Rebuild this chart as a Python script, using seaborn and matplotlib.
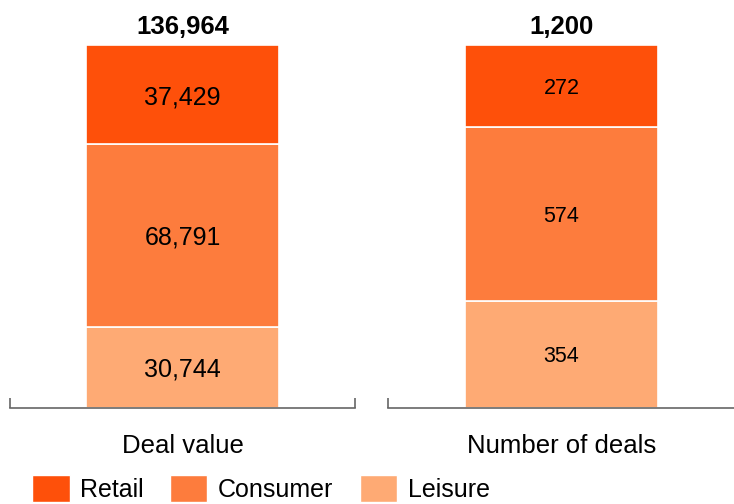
#!/usr/bin/env python3
import matplotlib
matplotlib.use("Agg")
import matplotlib.pyplot as plt
import seaborn as sns
import pandas as pd
from matplotlib.patches import Patch

sns.set_style("white")
plt.rcParams["font.family"] = ["Liberation Sans", "DejaVu Sans"]
plt.rcParams["text.color"] = "black"
plt.rcParams["xtick.color"] = "black"
plt.rcParams["xtick.labelcolor"] = "black"

# data
segments = ["Leisure", "Consumer", "Retail"]  # bottom -> top
colors = {"Retail": "#FE500A", "Consumer": "#FD7C3D", "Leisure": "#FEAA74"}
panels = ["Deal value", "Number of deals"]
deal_value = [30744, 68791, 37429]
deal_count = [354, 574, 272]
value_font = [18, 15.5]

fig = plt.figure(figsize=(7.34, 5.04), dpi=100)
ax_left = fig.add_axes([10 / 734, 96 / 504, 345 / 734, 363 / 504])
ax_right = fig.add_axes([388 / 734, 96 / 504, 347 / 734, 363 / 504])

for ax, name, vals, fs in zip([ax_left, ax_right], panels, [deal_value, deal_count], value_font):
    df = pd.DataFrame({"panel": [name] * len(segments), "segment": segments, "value": vals})
    bottom = 0
    for seg, v in zip(segments, vals):
        sub = df[df["segment"] == seg]
        sns.barplot(data=sub, x="panel", y="value", ax=ax, color=colors[seg],
                    bottom=bottom, width=0.557, edgecolor="white", linewidth=1.2,
                    saturation=1, errorbar=None)
        bottom += v
    for c in ax.containers:
        texts = ax.bar_label(c, labels=[f"{c.datavalues[0]:,.0f}"], label_type="center",
                             fontsize=fs, color="black")
        for t in texts:
            t.set_va("center_baseline")
    total = sum(vals)
    ax.bar_label(ax.containers[-1], labels=[f"{total:,}"], padding=4,
                 fontsize=18.5, fontweight="bold", color="black")

    ax.set_xlim(-0.5, 0.5)
    ax.set_ylim(0, total)
    ax.set_yticks([])
    ax.set_ylabel("")
    ax.set_xlabel("")
    ax.set_xticks([-0.5, 0.5], minor=True)
    ax.tick_params(axis="x", which="minor", bottom=True, direction="in", length=7,
                   width=1.2, color="#666666")
    ax.tick_params(axis="x", which="major", length=0, pad=19, labelsize=18.5)
    for s in ["top", "left", "right"]:
        ax.spines[s].set_visible(False)
    ax.spines["bottom"].set_color("#666666")
    ax.spines["bottom"].set_linewidth(1.2)

handles = [Patch(facecolor=colors[s], label=s) for s in ["Retail", "Consumer", "Leisure"]]
fig.legend(handles=handles, loc="upper left", bbox_to_anchor=(32 / 734, 29 / 504),
           ncol=3, frameon=False, fontsize=18, handlelength=1.5, handleheight=1.3,
           handletextpad=0.42, columnspacing=1.05, borderpad=0, borderaxespad=0)

fig.savefig("out.png", dpi=100)
